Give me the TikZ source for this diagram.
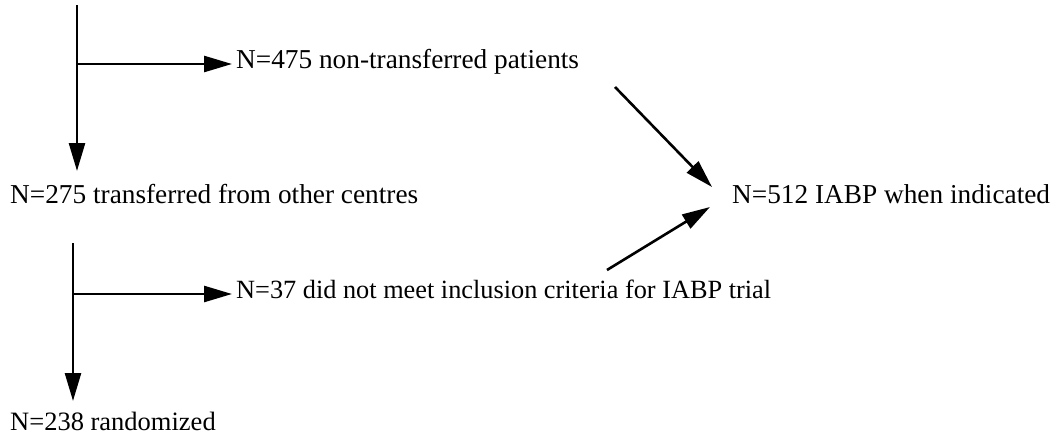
\documentclass[tikz,border=0pt]{standalone}
\usepackage{fontspec}
\setmainfont{Liberation Serif}
\usetikzlibrary{arrows.meta}
\begin{document}
\begin{tikzpicture}[x=1pt,y=-1pt,
  lbl/.style={anchor=base west,inner sep=0pt,font=\fontsize{27.3}{32}\selectfont},
  conn/.style={line width=2.6pt,-{Triangle[length=28pt,width=16pt]}}]
\useasboundingbox (0,0) rectangle (1061,439);
% text nodes
\node[lbl] (n275) at (10,203) {N=275 transferred from other centres};
\node[lbl] (n475) at (236,68) {N=475 non-transferred patients};
\node[lbl,font=\fontsize{26.3}{32}\selectfont] (n37) at (236,298) {N=37 did not meet inclusion criteria for IABP trial};
\node[lbl,font=\fontsize{26.5}{32}\selectfont] (n238) at (10,430) {N=238 randomized};
\node[lbl] (n512) at (732,203) {N=512 IABP when indicated};
% coordinates
\coordinate (top1) at (77,5);
\coordinate (br1) at (77,64);
\coordinate (end1) at (77,171);
\coordinate (top2) at (73,243);
\coordinate (br2) at (73,294);
\coordinate (end2) at (73,401);
\coordinate (d1s) at (615,87);
\coordinate (d1e) at (712,187);
\coordinate (d2s) at (607,270);
\coordinate (d2e) at (710,207);
% connectors
\draw[conn] (top1) -- (end1);
\draw[conn] (br1) -- (br1 -| n475.west) [shorten >=4pt];
\draw[conn] (top2) -- (end2);
\draw[conn] (br2) -- (br2 -| n37.west) [shorten >=4pt];
\draw[conn] (d1s) -- (d1e);
\draw[conn] (d2s) -- (d2e);
\end{tikzpicture}
\end{document}
